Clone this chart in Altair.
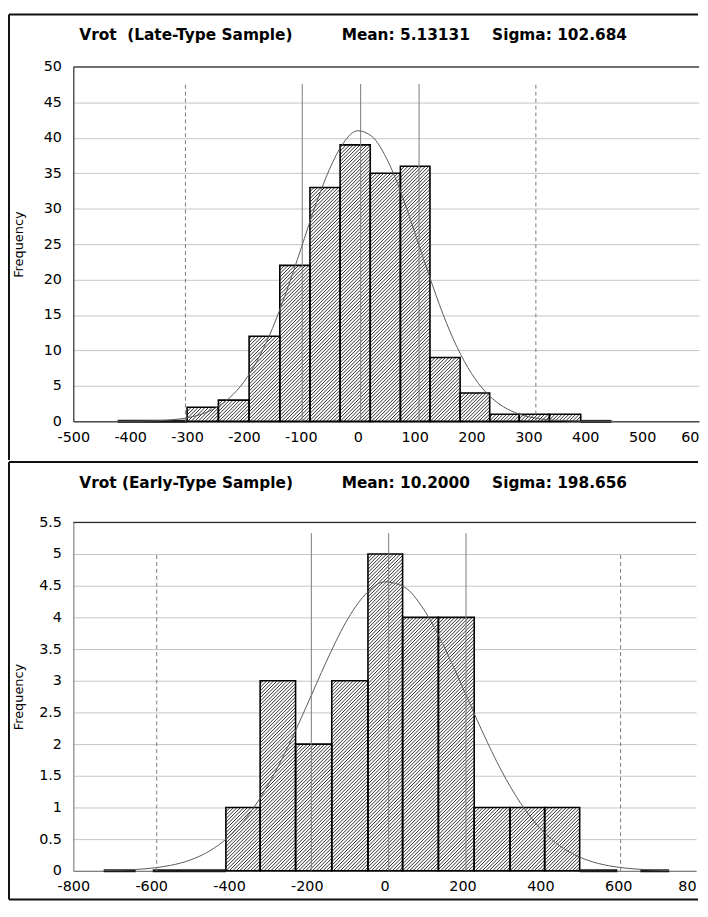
import altair as alt
import pandas as pd
import numpy as np

# ---------------- data ----------------
# Top panel (late-type sample)
top_title = ["Vrot \u00a0(Late-Type Sample)", "Mean: 5.13131", "Sigma: 102.684"]
top_edges = [-300, -245, -191, -137, -84, -31, 22, 75, 127, 180, 232, 284, 337, 392]
top_counts = [2, 3, 12, 22, 33, 39, 35, 36, 9, 4, 1, 1, 1]
top_zero_start = [-422, 392]
top_zero_end = [-300, 446]
top_curve_x = [-425, -400, -375, -350, -325, -300, -275, -250, -225, -200, -175, -150,
               -125, -100, -75, -50, -25, 0, 25, 50, 75, 100, 125, 150, 175, 200, 225,
               250, 275, 300, 325, 350, 375, 400, 425, 450]
top_curve_y = [0.006, 0.017, 0.04, 0.10, 0.23, 0.50, 1.0, 1.88, 3.34, 5.59, 8.82, 13.1,
               18.4, 24.3, 30.3, 35.5, 39.3, 41.0, 40.2, 37.2, 32.5, 26.7, 20.7, 15.1,
               10.4, 6.76, 4.13, 2.38, 1.29, 0.66, 0.32, 0.145, 0.06, 0.025, 0.009, 0.003]
top_solid = [-97.55, 5.13, 107.81]
top_solid_top = 47.6
top_dashed = [-302.92, 313.18]
top_dashed_top = 47.6
top_xticks = [-500, -400, -300, -200, -100, 0, 100, 200, 300, 400, 500, 600]
top_yticks = [0, 5, 10, 15, 20, 25, 30, 35, 40, 45, 50]

# Bottom panel (early-type sample)
bot_title = ["Vrot (Early-Type Sample)", "Mean: 10.2000", "Sigma: 198.656"]
bot_edges = [-408, -320, -229, -136, -43, 46, 138, 230, 322, 411, 501]
bot_counts = [1, 3, 2, 3, 5, 4, 4, 1, 1, 1]
bot_zero_start = [-722, -596, 501, 657]
bot_zero_end = [-640, -408, 598, 731]
bot_curve_x = [-720, -700, -650, -600, -550, -500, -450, -400, -350, -300, -250, -200,
               -150, -100, -50, 0, 50, 100, 150, 200, 250, 300, 350, 400, 450, 500, 550,
               600, 650, 700, 730]
bot_curve_y = [0.005, 0.008, 0.018, 0.041, 0.086, 0.169, 0.313, 0.542, 0.883, 1.35, 1.94,
               2.61, 3.30, 3.92, 4.36, 4.56, 4.48, 4.13, 3.57, 2.90, 2.21, 1.58, 1.06, 0.666,
               0.394, 0.219, 0.114, 0.056, 0.026, 0.011, 0.006]
bot_solid = [-188.46, 10.2, 208.86]
bot_solid_top = 5.33
bot_dashed = [-585.77, 606.17]
bot_dashed_top = 5.0
bot_xticks = [-800, -600, -400, -200, 0, 200, 400, 600, 800]
bot_yticks = [0, 0.5, 1, 1.5, 2, 2.5, 3, 3.5, 4, 4.5, 5, 5.5]

FONT = "DejaVu Sans"


def hatch_segments(edges, counts, dmin, dmax, ymax, W, H, step=3.5):
    sx = W / (dmax - dmin)
    sy = H / ymax
    rows = []
    for i, c in enumerate(counts):
        X0 = (edges[i] - dmin) * sx
        X1 = (edges[i + 1] - dmin) * sx
        Ht = c * sy
        k0 = int(np.floor((X0 - Ht) / step)) - 1
        k1 = int(np.ceil(X1 / step)) + 1
        for k in range(k0, k1 + 1):
            cc = k * step
            lo = max(0.0, X0 - cc)
            hi = min(Ht, X1 - cc)
            if hi - lo > 0.4:
                rows.append({"hx": dmin + (lo + cc) / sx, "hy": lo / sy,
                             "hx2": dmin + (hi + cc) / sx, "hy2": hi / sy})
    return pd.DataFrame(rows)


def panel(title, edges, counts, zs, ze, cx, cy, solid, solid_top, dashed, dashed_top,
          xticks, yticks, W, H, ylab_fmt, axis_col, title_pos, ytitle_x, frame, draw_bottom):
    dmin, dmax = xticks[0], xticks[-1]
    ymax = yticks[-1]
    xs = alt.Scale(domain=[dmin, dmax], nice=False, zero=False)
    ys = alt.Scale(domain=[0, ymax], nice=False, zero=True)

    bars = pd.DataFrame({"x0": edges[:-1], "x1": edges[1:], "n": counts,
                         "z": [0] * len(counts)})
    hatch = hatch_segments(edges, counts, dmin, dmax, ymax, W, H)
    zero = pd.DataFrame({"a": zs, "b": ze, "z": [0] * len(zs)})
    curve = pd.DataFrame({"x": cx, "y": cy})
    sol = pd.DataFrame({"v": solid, "y0": [0] * len(solid), "y1": [solid_top] * len(solid)})
    das = pd.DataFrame({"v": dashed, "y0": [0] * len(dashed), "y1": [dashed_top] * len(dashed)})

    last = xticks[-1]
    cut = str(last)[:-1]  # the last label is cut off by the window edge in the original
    xaxis = alt.Axis(values=xticks, grid=False, tickSize=0, labelPadding=9,
                     labelExpr=f"datum.value == {last} ? '{cut}' : (datum.value < 0 ? '-' + (-datum.value) : '' + datum.value)",
                     labelAlign={"condition": {"test": f"datum.value == {last}", "value": "right"},
                                 "value": "center"},
                     labelFlush=False, labelOverlap=False, domainColor=axis_col,
                     domainWidth=1, labelFont=FONT, labelFontSize=14.5, labelColor="black",
                     title=None)
    yaxis = alt.Axis(values=yticks, grid=True, gridColor="#c4c4c4", gridWidth=1,
                     tickSize=0, labelPadding=12, format=ylab_fmt, labelOverlap=False,
                     domainColor=axis_col, labelFont=FONT, labelFontSize=14.5,
                     labelColor="black", title="Frequency", titleFont=FONT,
                     titleFontSize=13, titleFontWeight="normal", titleColor="black",
                     titleX=ytitle_x, titleY=H / 2, titleBaseline="middle",
                     titleAngle=270, titleAlign="center")

    def X(f):
        return alt.X(f, scale=xs, axis=xaxis)

    def Y(f):
        return alt.Y(f, scale=ys, axis=yaxis)

    base_bars = alt.Chart(bars).mark_rect(fill="white", strokeWidth=0).encode(
        x=X("x0:Q"), x2="x1:Q", y=Y("n:Q"), y2="z:Q")
    hatch_l = alt.Chart(hatch).mark_rule(color="#2e2e2e", strokeWidth=1).encode(
        x=X("hx:Q"), x2="hx2:Q", y=Y("hy:Q"), y2="hy2:Q")
    outline = alt.Chart(bars).mark_rect(fillOpacity=0, stroke="black",
                                        strokeWidth=1.6).encode(
        x=X("x0:Q"), x2="x1:Q", y=Y("n:Q"), y2="z:Q")
    zero_l = alt.Chart(zero).mark_rule(color="#1a1a1a", strokeWidth=3).encode(
        x=X("a:Q"), x2="b:Q", y=Y("z:Q"))
    curve_l = alt.Chart(curve).mark_line(color="#5a5a5a", strokeWidth=1,
                                         interpolate="monotone").encode(
        x=X("x:Q"), y=Y("y:Q"))
    sol_l = alt.Chart(sol).mark_rule(color="#7a7a7a", strokeWidth=1).encode(
        x=X("v:Q"), y=Y("y0:Q"), y2="y1:Q")
    das_l = alt.Chart(das).mark_rule(color="#7a7a7a", strokeWidth=1,
                                     strokeDash=[4, 3]).encode(
        x=X("v:Q"), y=Y("y0:Q"), y2="y1:Q")
    top_border = alt.Chart().mark_rule(color="black", strokeWidth=1).encode(
        x=alt.value(0), x2=alt.value(W), y=alt.value(0))

    layers = [base_bars, hatch_l, outline, zero_l, curve_l, sol_l, das_l, top_border]

    # title texts
    for txt, px in zip(title, title_pos[0]):
        layers.append(alt.Chart().mark_text(font=FONT, fontSize=15.5, fontWeight="bold",
                                             align="left", baseline="middle",
                                             color="black").encode(
            x=alt.value(px), y=alt.value(title_pos[1]), text=alt.value(txt)))

    # panel frame
    fl, ft, fr, fb = frame
    segs = [(fl, ft, fr, ft), (fl, ft, fl, fb)]
    if draw_bottom:
        segs.append((fl, fb, fr, fb))
    for seg in segs:
        layers.append(alt.Chart().mark_rule(color="#111111", strokeWidth=2).encode(
            x=alt.value(seg[0]), x2=alt.value(seg[2]),
            y=alt.value(seg[1]), y2=alt.value(seg[3])))

    return alt.layer(*layers).properties(width=W, height=H)


W1, H1 = 632, 358
W2, H2 = 629, 352

top = panel(top_title, top_edges, top_counts, top_zero_start, top_zero_end,
            top_curve_x, top_curve_y, top_solid, top_solid_top, top_dashed,
            top_dashed_top, top_xticks, top_yticks, W1, H1, "d", "black",
            ([6, 271, 423], -32), -55, (-65, -53, 631, 397), False)

bot = panel(bot_title, bot_edges, bot_counts, bot_zero_start, bot_zero_end,
            bot_curve_x, bot_curve_y, bot_solid, bot_solid_top, bot_dashed,
            bot_dashed_top, bot_xticks, bot_yticks, W2, H2, "~g", "#6a6a6a",
            ([6, 271, 423], -40), -55, (-65, -61, 631, 381), True)

chart = alt.vconcat(top, bot, spacing=0).properties(
    padding={"left": 0, "top": 1, "right": 0, "bottom": 0},
    background="white",
).configure_view(stroke=None)

chart.save("out.html", embed_options={"renderer": "svg", "actions": False})
